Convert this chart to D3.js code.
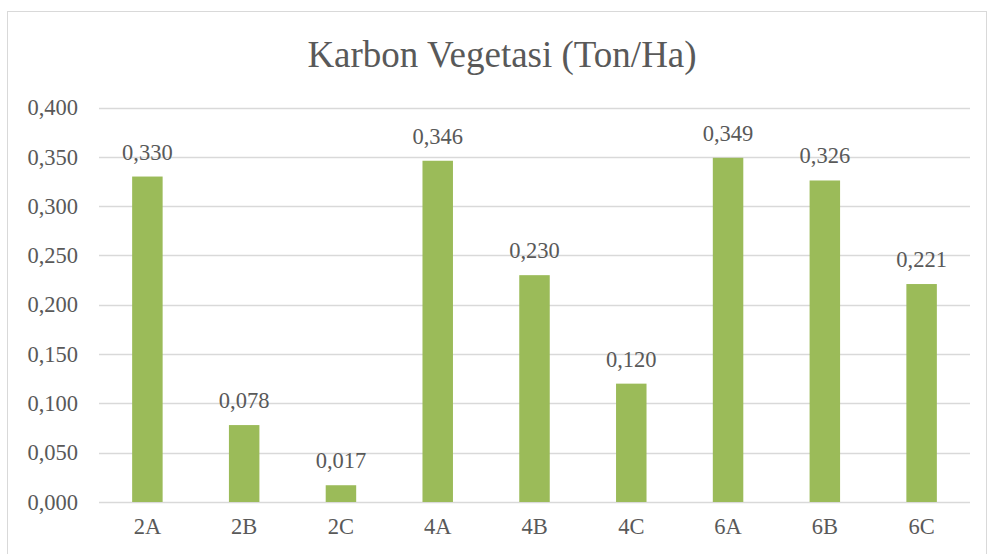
<!DOCTYPE html>
<html><head><meta charset="utf-8">
<script src="https://cdn.jsdelivr.net/npm/d3@7"></script>
<style>body{margin:0;background:#fff}svg{display:block}</style>
</head><body><svg id="c" width="987" height="554" font-family="Liberation Serif"></svg>
<script>
const categories = ["2A","2B","2C","4A","4B","4C","6A","6B","6C"];
const values = [0.330,0.078,0.017,0.346,0.230,0.120,0.349,0.326,0.221];
const yTicks = [0,0.05,0.1,0.15,0.2,0.25,0.3,0.35,0.4];
const title = "Karbon Vegetasi (Ton/Ha)";

const FONT = "Liberation Serif";
const TXT = "#595959";
const svg = d3.select("#c");
const W = 987, H = 554;
const m = {l:99, r:17, t:107.5, b:52};
svg.append("rect").attr("x",7.5).attr("y",11.5).attr("width",W-8).attr("height",H-11)
  .attr("fill","#fff").attr("stroke","#d9d9d9").attr("stroke-width",1);

const x = d3.scaleBand().domain(categories).range([m.l, W-m.r]).paddingInner(0.685).paddingOuter(0.3425);
const y = d3.scaleLinear().domain([0,0.4]).range([H-m.b, m.t]);
const fmt = v => d3.format(".3f")(v).replace(".", ",");

const g = svg.append("g");
g.selectAll("line.grid").data(yTicks).enter().append("line")
  .attr("x1",m.l).attr("x2",W-m.r).attr("y1",d=>Math.round(y(d))+0.5).attr("y2",d=>Math.round(y(d))+0.5)
  .attr("stroke","#d9d9d9").attr("stroke-width",1.3);

function styleText(sel){
  sel.attr("font-family",FONT).attr("font-size",22.5).attr("fill",TXT);
}
const yAxis = d3.axisLeft(y).tickValues(yTicks).tickFormat(fmt).tickSize(0).tickPadding(21);
const ya = svg.append("g").attr("transform",`translate(${m.l},0)`).call(yAxis);
ya.attr("font-family",FONT).attr("font-size",22.5);
ya.select(".domain").remove();
ya.selectAll("text").call(styleText);

const xAxis = d3.axisBottom(x).tickSize(0).tickPadding(16);
const xa = svg.append("g").attr("transform",`translate(0,${H-m.b})`).call(xAxis);
xa.attr("font-family",FONT).attr("font-size",22.5);
xa.select(".domain").remove();
xa.selectAll("text").call(styleText);

g.selectAll("rect.bar").data(values).enter().append("rect")
  .attr("x",(d,i)=>x(categories[i])).attr("width",x.bandwidth())
  .attr("y",d=>y(d)).attr("height",d=>y(0)-y(d)).attr("fill","#9bbb59");

g.selectAll("text.lbl").data(values).enter().append("text")
  .attr("x",(d,i)=>x(categories[i])+x.bandwidth()/2).attr("y",d=>y(d)-17)
  .attr("text-anchor","middle").call(styleText).text(d=>fmt(d));

svg.append("text").attr("x",502).attr("y",67).attr("text-anchor","middle")
  .attr("font-family",FONT).attr("font-size",37).attr("fill",TXT).text(title);
</script></body></html>
